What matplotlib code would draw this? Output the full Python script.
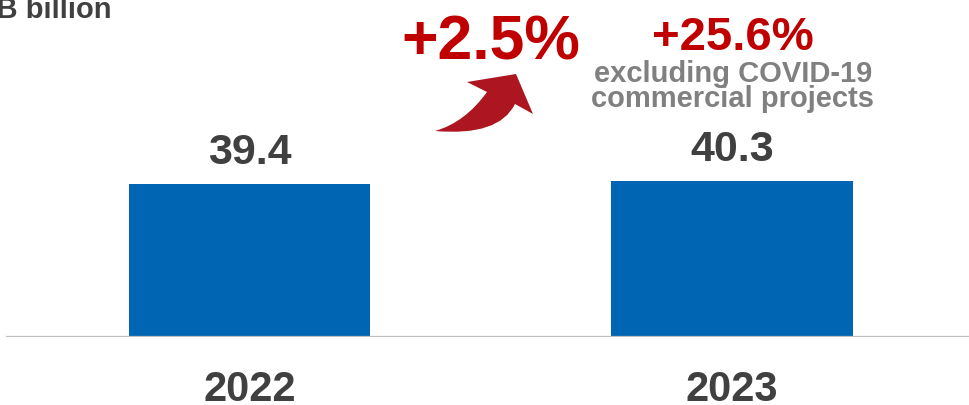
import matplotlib.pyplot as plt
from matplotlib.path import Path
from matplotlib.patches import PathPatch

# Datos
years = ["2022", "2023"]
revenue = [39.4, 40.3]
value_labels = ["39.4", "40.3"]
unit_label = "RMB billion"
growth_label = "+2.5%"
growth_excl_label = "+25.6%"
note_lines = ["excluding COVID-19", "commercial projects"]

plt.rcParams['font.family'] = ['Liberation Sans', 'DejaVu Sans']
plt.rcParams['font.weight'] = 'bold'

W, H = 969, 406
fig = plt.figure(figsize=(W / 100, H / 100), dpi=100)

# Eje principal con las barras
ax = fig.add_axes([0, 68 / H, 1, 338 / H])
x = list(range(len(years)))
ax.bar(x, revenue, width=0.5, color='#0066B3', zorder=2)
ax.set_xlim(-0.517, 1.491)
ax.set_ylim(0, 87.1)
for s in ax.spines.values():
    s.set_visible(False)
ax.axhline(0, xmin=7 / W, xmax=1, color='#BFBFBF', lw=1.6, zorder=3)
ax.set_yticks([])
ax.set_xticks(x, years)
ax.tick_params(axis='x', length=0, pad=23, labelsize=30, labelcolor='#404040')
for lbl in ax.get_xticklabels():
    lbl.set_fontweight('bold')

for xi, v, t in zip(x, revenue, value_labels):
    ax.annotate(t, (xi, v), xytext=(0, 15), textcoords='offset points',
                ha='center', va='baseline', fontsize=31, fontweight='bold',
                color='#404040')

# Capa superior en pixeles para textos y flecha
ov = fig.add_axes([0, 0, 1, 1], zorder=5)
ov.set_xlim(0, W)
ov.set_ylim(H, 0)
ov.axis('off')

ov.text(112, 18, unit_label, ha='right', va='baseline', fontsize=21,
        fontweight='bold', color='#404040')
ov.text(491, 60, growth_label, ha='center', va='baseline', fontsize=45,
        fontweight='bold', color='#C00000')
ov.text(733, 50, growth_excl_label, ha='center', va='baseline', fontsize=34,
        fontweight='bold', color='#C00000')
ov.text(733, 82, note_lines[0], ha='center', va='baseline', fontsize=21,
        fontweight='bold', color='#808080')
ov.text(733, 107, note_lines[1], ha='center', va='baseline', fontsize=21,
        fontweight='bold', color='#808080')

# Flecha curva
verts = [(435, 132), (465, 123.5), (487, 93),
         (467, 83), (516, 75), (533, 115), (515, 105),
         (499, 137.5), (435, 132), (435, 132)]
codes = [Path.MOVETO, Path.CURVE3, Path.CURVE3,
         Path.LINETO, Path.LINETO, Path.LINETO, Path.LINETO,
         Path.CURVE3, Path.CURVE3, Path.CLOSEPOLY]
ov.add_patch(PathPatch(Path(verts, codes), facecolor='#AD1620',
                       edgecolor='none'))

fig.savefig('out.png', dpi=100)
